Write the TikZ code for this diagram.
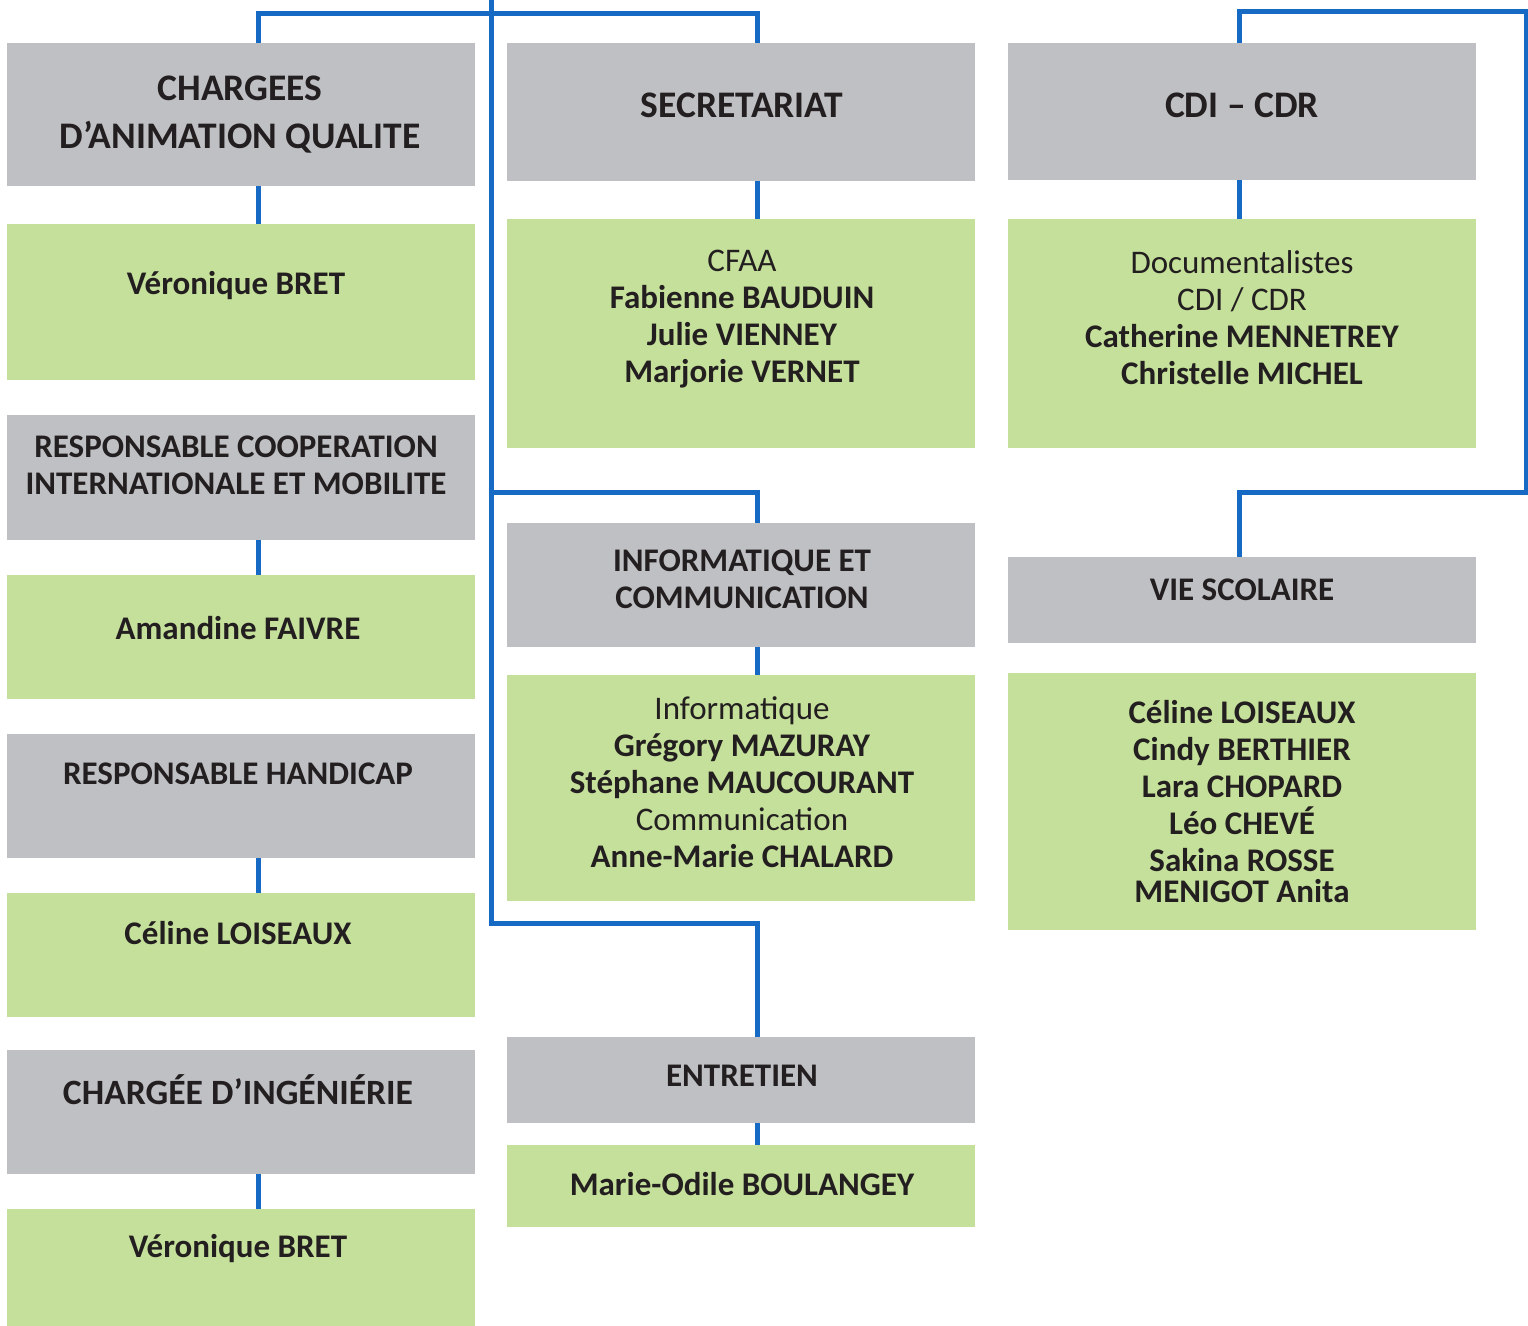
\documentclass[tikz,border=0pt]{standalone}
\usepackage{fontspec}
\setmainfont{Carlito}
\definecolor{boxgray}{RGB}{191,192,196}
\definecolor{boxgreen}{RGB}{197,224,154}
\definecolor{linkblue}{RGB}{22,106,196}
\definecolor{txt}{RGB}{35,31,32}

\begin{document}
\begin{tikzpicture}[x = 0.5pt, y = -0.5pt,
    box/.style = {rectangle, anchor = north west, inner sep = 0pt, outer sep = 0pt, minimum width = 234pt},
    graybox/.style = {box, fill = boxgray},
    greenbox/.style = {box, fill = boxgreen},
    lbl/.style = {align = center, text = txt, inner sep = 0pt, font = \fontsize{16.5}{18.5}\selectfont},
    hd/.style = {lbl, font = \fontsize{16.5}{18.5}\selectfont\bfseries},
    bighd/.style = {lbl, font = \fontsize{18.75}{24}\selectfont\bfseries},
    link/.style = {draw = linkblue, line width = 2.5pt}]
    \useasboundingbox (0,0) rectangle (1528,1326);
    % connector columns and corners
    \coordinate (c1) at (258,0);
    \coordinate (c2) at (757,0);
    \coordinate (c3) at (1239,0);
    \coordinate (top) at (491,0);
    \coordinate (j1) at (491,14);
    \coordinate (j2) at (491,493);
    \coordinate (j3) at (491,923);
    \coordinate (r1) at (1526,12);
    \coordinate (r2) at (1526,493);

    % left column
    \node[graybox, minimum height = 71.5pt] (cq) at (7,43) {};
    \node[greenbox, minimum height = 78pt] (vb1) at (7,224) {};
    \node[graybox, minimum height = 62.5pt] (rci) at (7,415) {};
    \node[greenbox, minimum height = 62pt] (af) at (7,575) {};
    \node[graybox, minimum height = 62pt] (rh) at (7,734) {};
    \node[greenbox, minimum height = 62pt] (cl1) at (7,893) {};
    \node[graybox, minimum height = 62pt] (ci) at (7,1050) {};
    \node[greenbox, minimum height = 58.5pt] (vb2) at (7,1209) {};
    \node[bighd] (cqt) at (240,115) {CHARGEES\\D’ANIMATION QUALITE};
    \node[hd] (vb1t) at (236,286) {Véronique BRET};
    \node[hd] (rcit) at (236,465.5) {RESPONSABLE COOPERATION\\INTERNATIONALE ET MOBILITE};
    \node[hd] (aft) at (238,628) {Amandine FAIVRE};
    \node[hd] (rht) at (238,774) {RESPONSABLE HANDICAP};
    \node[hd] (cl1t) at (238,933) {Céline LOISEAUX};
    \node[hd, font = \fontsize{17.8}{18.5}\selectfont\bfseries] (cit) at (238,1090) {CHARGÉE D’INGÉNIÉRIE};
    \node[hd] (vb2t) at (238,1249) {Véronique BRET};

    % middle column
    \node[graybox, minimum height = 69pt] (sec) at (507,43) {};
    \node[greenbox, minimum height = 114.5pt] (cfaa) at (507,219) {};
    \node[graybox, minimum height = 62pt] (info) at (507,523) {};
    \node[greenbox, minimum height = 113pt] (infog) at (507,675) {};
    \node[graybox, minimum height = 43pt] (ent) at (507,1037) {};
    \node[greenbox, minimum height = 41pt] (entg) at (507,1145) {};
    \node[bighd] (sect) at (742,105) {SECRETARIAT};
    \node[lbl] (cfaat) at (742,319) {CFAA\\\textbf{Fabienne BAUDUIN}\\\textbf{Julie VIENNEY}\\\textbf{Marjorie VERNET}};
    \node[hd] (infot) at (742,579.5) {INFORMATIQUE ET\\COMMUNICATION};
    \node[lbl] (infogt) at (742,782.5) {Informatique\\\textbf{Grégory MAZURAY}\\\textbf{Stéphane MAUCOURANT}\\Communication\\\textbf{Anne-Marie CHALARD}};
    \node[hd] (entt) at (742,1076) {ENTRETIEN};
    \node[hd] (entgt) at (742,1184) {Marie-Odile BOULANGEY};

    % right column
    \node[graybox, minimum height = 68.5pt] (cdi) at (1008,43) {};
    \node[greenbox, minimum height = 114.5pt] (doc) at (1008,219) {};
    \node[graybox, minimum height = 43pt] (vie) at (1008,557) {};
    \node[greenbox, minimum height = 128.5pt] (vieg) at (1008,673) {};
    \node[bighd] (cdit) at (1242,105) {CDI – CDR};
    \node[lbl] (doct) at (1242,317.5) {Documentalistes\\CDI / CDR\\\textbf{Catherine MENNETREY}\\\textbf{Christelle MICHEL}};
    \node[hd] (viet) at (1242,590) {VIE SCOLAIRE};
    \node[hd] (viegt) at (1242,801.5) {Céline LOISEAUX\\Cindy BERTHIER\\Lara CHOPARD\\Léo CHEVÉ\\Sakina ROSSE\\[-3pt]MENIGOT Anita};

    % links
    \draw[link] (top) -- (j3) -| (ent.north -| c2);
    \draw[link] (cq.north -| c1) |- (j1) -| (sec.north -| c2);
    \draw[link] (j2) -| (info.north -| c2);
    \draw[link] (cdi.north -| c3) |- (r1) -- (r2) -| (vie.north -| c3);
    \draw[link] (cq.south -| c1) -- (vb1.north -| c1);
    \draw[link] (rci.south -| c1) -- (af.north -| c1);
    \draw[link] (rh.south -| c1) -- (cl1.north -| c1);
    \draw[link] (ci.south -| c1) -- (vb2.north -| c1);
    \draw[link] (sec.south -| c2) -- (cfaa.north -| c2);
    \draw[link] (info.south -| c2) -- (infog.north -| c2);
    \draw[link] (ent.south -| c2) -- (entg.north -| c2);
    \draw[link] (cdi.south -| c3) -- (doc.north -| c3);
\end{tikzpicture}
\end{document}
